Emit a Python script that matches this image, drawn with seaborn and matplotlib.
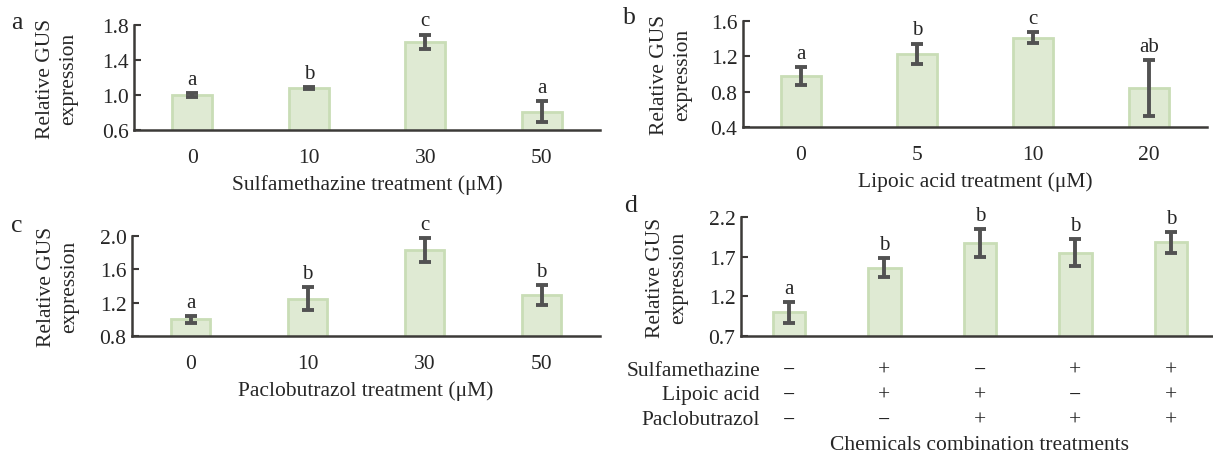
import matplotlib
matplotlib.use("Agg")
import matplotlib.pyplot as plt
import matplotlib.transforms as mtransforms
import seaborn as sns
import pandas as pd

# ---------------- data ----------------
a_cats = ["0", "10", "30", "50"]
a_vals = [1.00, 1.08, 1.61, 0.81]
a_errs = [0.02, 0.01, 0.08, 0.12]
a_sig = ["a", "b", "c", "a"]

b_cats = ["0", "5", "10", "20"]
b_vals = [0.98, 1.23, 1.41, 0.84]
b_errs = [0.10, 0.115, 0.06, 0.32]
b_sig = ["a", "b", "c", "ab"]

c_cats = ["0", "10", "30", "50"]
c_vals = [1.00, 1.25, 1.83, 1.29]
c_errs = [0.04, 0.14, 0.14, 0.12]
c_sig = ["a", "b", "c", "b"]

d_cats = ["C1", "C2", "C3", "C4", "C5"]
d_vals = [1.00, 1.56, 1.87, 1.75, 1.88]
d_errs = [0.13, 0.12, 0.18, 0.17, 0.13]
d_sig = ["a", "b", "b", "b", "b"]
d_rows = ["Sulfamethazine", "Lipoic acid", "Paclobutrazol"]
d_table = [["−", "+", "−", "+", "+"],
           ["−", "+", "+", "−", "+"],
           ["−", "−", "+", "+", "+"]]

# ---------------- style ----------------
sns.set_theme(style="white")
plt.rcParams["font.family"] = ["Liberation Serif", "DejaVu Serif"]
FS = 15.5
FILL = "#dfead3"
EDGE = "#c9ddb6"
ERR = "#525252"
SPINE = "#3c3a38"

W, H = 1213, 456
fig = plt.figure(figsize=(W / 100, H / 100), dpi=100)


def add_axes(left, right, top, bottom):
    return fig.add_axes([left / W, 1 - bottom / H, (right - left) / W, (bottom - top) / H])


def panel(ax, cats, vals, errs, sig, ylim, yticks, xlabel, letter, letter_xy, ylab_x):
    df = pd.DataFrame({"cat": cats, "val": vals})
    sns.barplot(data=df, x="cat", y="val", order=cats, color=FILL, width=0.34,
                edgecolor=EDGE, linewidth=2, saturation=1, errorbar=None, ax=ax)
    xs = list(range(len(cats)))
    ax.errorbar(xs, vals, yerr=errs, fmt="none", ecolor=ERR, elinewidth=2.8,
                capsize=4, capthick=2.8, zorder=5)
    for x, v, e, s in zip(xs, vals, errs, sig):
        ax.annotate(s, (x, v + e), xytext=(0, 3), textcoords="offset points",
                    ha="center", va="bottom", fontsize=FS - 0.5)
    ax.set_ylim(*ylim)
    ax.set_xlim(-0.5, len(cats) - 0.5)
    ax.set_yticks(yticks)
    ax.set_yticklabels([f"{t:.1f}" for t in yticks], fontsize=FS)
    ax.tick_params(axis="y", direction="in", length=5, width=1.5, color=SPINE,
                   left=True, pad=4)
    ax.tick_params(axis="x", length=0, pad=13, labelsize=FS)
    for s in ["top", "right"]:
        ax.spines[s].set_visible(False)
    for s in ["left", "bottom"]:
        ax.spines[s].set_color(SPINE)
        ax.spines[s].set_linewidth(1.8)
    ax.set_ylabel("Relative GUS\nexpression", fontsize=FS, linespacing=1.3)
    ax.yaxis.set_label_coords(ylab_x, 0.5)
    if xlabel:
        ax.set_xlabel(xlabel, fontsize=FS, labelpad=5)
    else:
        ax.set_xlabel("")
    fig.text(letter_xy[0] / W, 1 - letter_xy[1] / H, letter, fontsize=FS + 3,
             ha="center", va="center")


ax_a = add_axes(134, 600, 26, 131)
panel(ax_a, a_cats, a_vals, a_errs, a_sig, (0.6, 1.8), [0.6, 1.0, 1.4, 1.8],
      "Sulfamethazine treatment (μM)", "a", (17, 23), -0.12)

ax_b = add_axes(743, 1207, 22, 128)
panel(ax_b, b_cats, b_vals, b_errs, b_sig, (0.4, 1.6), [0.4, 0.8, 1.2, 1.6],
      "Lipoic acid treatment (μM)", "b", (629, 18), -0.11)

ax_c = add_axes(132, 600, 237, 337)
panel(ax_c, c_cats, c_vals, c_errs, c_sig, (0.8, 2.0), [0.8, 1.2, 1.6, 2.0],
      "Paclobutrazol treatment (μM)", "c", (17, 226), -0.113)

ax_d = add_axes(741, 1213, 218, 337)
panel(ax_d, d_cats, d_vals, d_errs, d_sig, (0.7, 2.2), [0.7, 1.2, 1.7, 2.2],
      None, "d", (631, 206), -0.112)
ax_d.set_xlim(-0.5, 4.44)
ax_d.set_xticklabels([])

# combination table under panel d
row_y = [371, 396, 421]
trans = mtransforms.blended_transform_factory(ax_d.transData, fig.transFigure)
for r, (name, marks) in enumerate(zip(d_rows, d_table)):
    yf = 1 - row_y[r] / H
    fig.text(760 / W, yf, name, ha="right", va="center", fontsize=FS)
    for i, m in enumerate(marks):
        ax_d.text(i, yf, m, transform=trans, ha="center", va="center",
                  fontsize=FS, clip_on=False)
fig.text(980 / W, 1 - 446 / H, "Chemicals combination treatments",
         ha="center", va="center", fontsize=FS)

fig.savefig("out.png", dpi=100)
